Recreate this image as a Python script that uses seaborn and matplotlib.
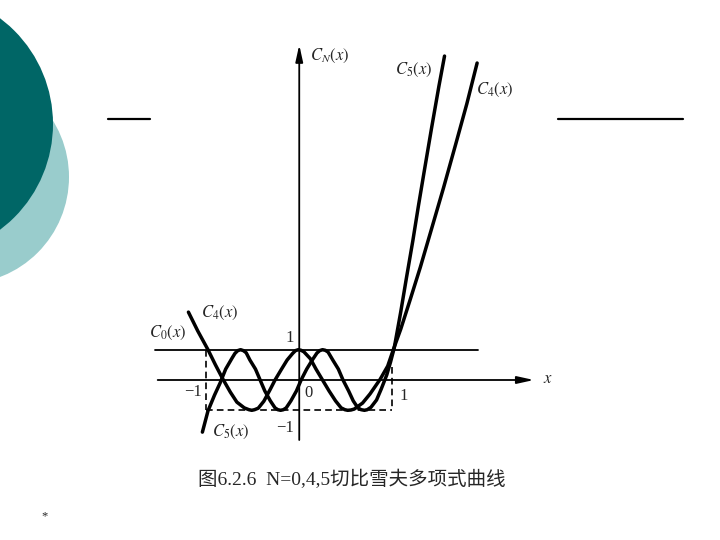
import matplotlib
matplotlib.use("Agg")
import matplotlib.pyplot as plt
import seaborn as sns
from matplotlib.patches import Circle

# curve readings (x in units of the x axis, y in units of C_N)
c4_x = [-1.19, -1.09, -0.98, -0.90, -0.82, -0.74, -0.67, -0.59, -0.54, -0.51, -0.48,
        -0.44, -0.38, -0.31, -0.26, -0.19, -0.13, -0.07, -0.04, -0.01, 0.02, 0.05,
        0.12, 0.18, 0.25, 0.32, 0.39, 0.45, 0.49, 0.52, 0.555, 0.59, 0.68, 0.76, 0.87,
        0.95, 1.01, 1.09, 1.19, 1.30, 1.42, 1.55, 1.68, 1.80, 1.91]
c4_y = [2.24, 1.62, 1.00, 0.50, 0.03, -0.40, -0.73, -0.92, -0.98, -1.00, -0.98,
        -0.93, -0.70, -0.30, 0.00, 0.36, 0.66, 0.88, 0.97, 1.00, 0.98, 0.93,
        0.70, 0.36, 0.00, -0.36, -0.69, -0.92, -0.98, -1.00, -0.99, -0.96, -0.76, -0.46, 0.03,
        0.46, 1.00, 1.68, 2.64, 3.72, 4.98, 6.35, 7.78, 9.12, 10.46]

c5_x = [-1.04, -0.98, -0.91, -0.85, -0.79, -0.72, -0.69, -0.66, -0.63, -0.60, -0.57,
        -0.53, -0.47, -0.42, -0.37, -0.31, -0.26, -0.23, -0.20, -0.17, -0.14, -0.09,
        -0.03, 0.02, 0.08, 0.14, 0.19, 0.22, 0.25, 0.28, 0.31, 0.36, 0.42, 0.47, 0.53,
        0.58, 0.63, 0.665, 0.70, 0.73, 0.77, 0.83, 0.88, 0.94, 0.98, 1.02, 1.09, 1.15,
        1.22, 1.28, 1.34, 1.42, 1.50, 1.56]
c5_y = [-1.72, -1.02, -0.50, -0.10, 0.36, 0.73, 0.88, 0.97, 1.00, 0.97, 0.90,
        0.66, 0.36, 0.00, -0.36, -0.69, -0.92, -0.98, -1.00, -0.98, -0.92, -0.69,
        -0.36, 0.00, 0.36, 0.66, 0.89, 0.97, 1.00, 0.98, 0.92, 0.66, 0.36, 0.00, -0.36,
        -0.69, -0.92, -0.98, -1.00, -0.98, -0.90, -0.66, -0.30, 0.17, 0.59, 1.06, 2.25, 3.35,
        4.60, 5.75, 6.85, 8.30, 9.70, 10.69]

c0_x = [-1.55, 1.92]
c0_y = [1.0, 1.0]

caption = "图6.2.6  N=0,4,5切比雪夫多项式曲线"

sns.set_style("white")
plt.rcParams["mathtext.fontset"] = "stix"

fig = plt.figure(figsize=(7.2, 5.4), dpi=100)

# slide background in pixel coordinates
bg = fig.add_axes([0, 0, 1, 1])
bg.set_xlim(0, 720)
bg.set_ylim(540, 0)
bg.axis("off")
bg.add_patch(Circle((-38, 177), 107, color="#99CCCC", lw=0))
bg.add_patch(Circle((-79, 124), 132, color="#006666", lw=0))
bg.plot([108, 150], [119, 119], color="black", lw=1.6)
bg.plot([558, 683], [119, 119], color="black", lw=1.6)
bg.text(352, 479, caption, ha="center", va="center", fontsize=14,
        family=["Liberation Serif", "Noto Sans CJK SC"])
bg.text(45, 516, "*", ha="center", va="center", fontsize=9,
        family="Liberation Serif")

# chart
ax = fig.add_axes([140 / 720, 90 / 540, 420 / 720, 410 / 540])
ax.set_xlim(-1.71, 2.80)
ax.set_ylim(-2.31, 11.22)
ax.axis("off")

# axes with arrows
ax.annotate("", xy=(2.52, 0), xytext=(-1.52, 0),
            arrowprops=dict(arrowstyle="-|>,head_length=1.0,head_width=0.22",
                            color="black", lw=1.3, shrinkA=0, shrinkB=0))
ax.annotate("", xy=(0, 11.06), xytext=(0, -1.98),
            arrowprops=dict(arrowstyle="-|>,head_length=1.0,head_width=0.22",
                            color="black", lw=1.3, shrinkA=0, shrinkB=0))

# dashed box
dash = dict(color="black", lw=1.2, ls=(0, (4, 2.5)))
ax.plot([-1, 1], [-1, -1], **dash)
ax.plot([-1, -1], [1, -1], **dash)
ax.plot([1, 1], [0.43, -1], **dash)

sns.lineplot(x=c0_x, y=c0_y, color="black", lw=1.3, ax=ax)
sns.lineplot(x=c4_x, y=c4_y, sort=False, color="black", lw=2.5, ax=ax)
sns.lineplot(x=c5_x, y=c5_y, sort=False, color="black", lw=2.5, ax=ax)

fs = 12
ax.text(0.12, 10.69, "$C_N(x)$", ha="left", va="center", fontsize=fs)
ax.text(1.23, 10.23, "$C_5(x)$", ha="center", va="center", fontsize=fs)
ax.text(2.10, 9.57, "$C_4(x)$", ha="center", va="center", fontsize=fs)
ax.text(-1.41, 1.55, "$C_0(x)$", ha="center", va="center", fontsize=fs)
ax.text(-0.85, 2.21, "$C_4(x)$", ha="center", va="center", fontsize=fs)
ax.text(-0.74, -1.72, "$C_5(x)$", ha="center", va="center", fontsize=fs)
ax.text(-0.10, 1.39, "1", ha="center", va="center", fontsize=fs, family="Liberation Serif")
ax.text(-1.14, -0.40, "−1", ha="center", va="center", fontsize=fs, family="Liberation Serif")
ax.text(0.10, -0.43, "0", ha="center", va="center", fontsize=fs, family="Liberation Serif")
ax.text(1.12, -0.53, "1", ha="center", va="center", fontsize=fs, family="Liberation Serif")
ax.text(-0.15, -1.58, "−1", ha="center", va="center", fontsize=fs, family="Liberation Serif")
ax.text(2.67, 0.07, "$x$", ha="center", va="center", fontsize=fs)

fig.savefig("out.png", dpi=100)
